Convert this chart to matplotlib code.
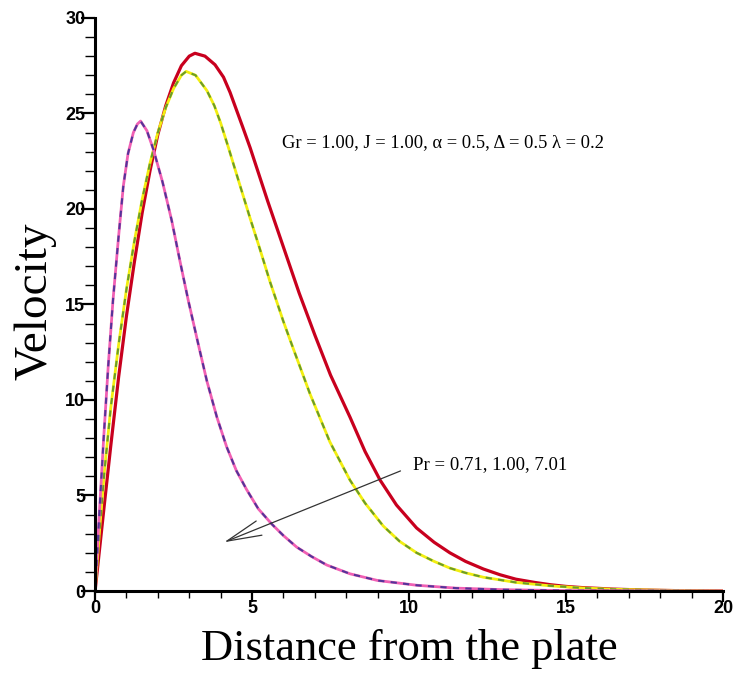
import numpy as np
import matplotlib
matplotlib.use("Agg")
import matplotlib.pyplot as plt
from matplotlib.ticker import MultipleLocator

# Velocity profiles, one per Prandtl number
x_pr071 = [0, 0.15, 0.3, 0.5, 0.75, 1.0, 1.25, 1.5, 1.75, 2.0, 2.25, 2.5, 2.75, 3.0,
           3.18, 3.5, 3.82, 4.09, 4.3, 4.5, 4.7, 4.94, 5.2, 5.5, 5.75, 6.0, 6.25, 6.5,
           6.75, 7.0, 7.5, 8.12, 8.6, 9.08, 9.6, 10.24, 10.8, 11.3, 11.8, 12.37, 12.9,
           13.4, 14.0, 14.5, 15.0, 15.5, 16.5, 17.5, 18.5, 20]
v_pr071 = [0, 2.3, 4.6, 7.6, 11.2, 14.4, 17.2, 19.8, 22.0, 23.9, 25.4, 26.6, 27.5, 28.0,
           28.15, 28.0, 27.55, 26.9, 26.1, 25.2, 24.3, 23.2, 21.9, 20.4, 19.2, 18.0, 16.8, 15.6,
           14.5, 13.4, 11.3, 9.1, 7.3, 5.8, 4.5, 3.3, 2.55, 2.0, 1.55, 1.15, 0.85,
           0.62, 0.45, 0.33, 0.24, 0.18, 0.1, 0.05, 0.02, 0]

x_pr100 = [0, 0.15, 0.3, 0.5, 0.75, 1.0, 1.25, 1.5, 1.75, 2.0, 2.25, 2.5, 2.75, 2.9,
           3.2, 3.56, 3.8, 4.0, 4.25, 4.51, 4.94, 5.25, 5.57, 6.0, 6.31, 6.85, 7.48,
           8.12, 8.6, 9.18, 9.7, 10.24, 10.8, 11.3, 11.8, 12.37, 13.4, 14.5, 15.5,
           16.5, 18, 20]
v_pr100 = [0, 3.3, 6.3, 9.6, 12.9, 15.8, 18.3, 20.5, 22.4, 24.0, 25.3, 26.3, 27.0, 27.2,
           27.0, 26.2, 25.4, 24.5, 23.2, 21.8, 19.5, 17.9, 16.2, 14.1, 12.7, 10.3, 7.8,
           5.8, 4.6, 3.4, 2.6, 2.0, 1.55, 1.2, 0.95, 0.72, 0.45, 0.27, 0.16,
           0.09, 0.04, 0]

x_pr701 = [0, 0.13, 0.27, 0.42, 0.57, 0.74, 0.9, 1.05, 1.22, 1.35, 1.45, 1.65, 1.86,
           2.15, 2.44, 2.7, 2.97, 3.29, 3.56, 3.88, 4.19, 4.5, 4.83, 5.2, 5.63, 6.0,
           6.42, 6.9, 7.38, 8.12, 9.0, 10.25, 11.5, 13, 15, 17, 20]
v_pr701 = [0, 3.9, 7.9, 11.8, 15.2, 18.4, 21.2, 22.9, 24.0, 24.45, 24.6, 24.1, 23.1,
           21.4, 19.4, 17.3, 15.2, 12.9, 11.0, 9.1, 7.55, 6.3, 5.3, 4.3, 3.5, 2.9,
           2.3, 1.8, 1.36, 0.9, 0.55, 0.3, 0.15, 0.07, 0.02, 0.01, 0]

fig = plt.figure(figsize=(7.37, 6.79), dpi=100)
ax = fig.add_axes([0.129, 0.1296, 0.852, 0.844])

# Pr = 0.71: solid red
ax.plot(x_pr071, v_pr071, color="#c8001e", lw=2.3, solid_joinstyle="round")
# Pr = 1.00: yellow with green dashes
ax.plot(x_pr100, v_pr100, color="#f2ee10", lw=2.0, solid_joinstyle="round")
ax.plot(x_pr100, v_pr100, color="#6a9c2a", lw=1.5, dashes=(3, 3))
# Pr = 7.01: pink with purple dashes
ax.plot(x_pr701, v_pr701, color="#f060b4", lw=2.0, solid_joinstyle="round")
ax.plot(x_pr701, v_pr701, color="#54349a", lw=1.5, dashes=(3, 3))

ax.set_xlim(0, 20)
ax.set_ylim(0, 30)
ax.xaxis.set_major_locator(MultipleLocator(5))
ax.xaxis.set_minor_locator(MultipleLocator(1))
ax.yaxis.set_major_locator(MultipleLocator(5))
ax.yaxis.set_minor_locator(MultipleLocator(1))

for side in ["top", "right"]:
    ax.spines[side].set_visible(False)
for side in ["left", "bottom"]:
    ax.spines[side].set_linewidth(2.2)

ax.tick_params(axis="x", which="major", direction="out", length=8, width=1.6, pad=-1.5)
ax.tick_params(axis="x", which="minor", direction="out", length=5, width=1.0)
ax.tick_params(axis="y", which="major", direction="out", length=10, width=1.6, pad=-3)
ax.tick_params(axis="y", which="minor", direction="out", length=7, width=1.0)
for lbl in ax.get_xticklabels() + ax.get_yticklabels():
    lbl.set_fontfamily("Liberation Sans")
    lbl.set_fontweight("bold")
    lbl.set_fontsize(13)

ax.set_xlabel("Distance from the plate", family="Liberation Serif", fontsize=32)
ax.xaxis.set_label_coords(0.5, -0.066)
ax.set_ylabel("Velocity", family="Liberation Serif", fontsize=34)
ax.yaxis.set_label_coords(-0.061, 0.506)

ax.text(5.96, 23.45, "Gr = 1.00, J = 1.00, \u03b1 = 0.5, \u0394 = 0.5 \u03bb = 0.2",
        family="Liberation Serif", fontsize=13.3, va="center", ha="left")
ax.text(10.13, 6.6, "Pr = 0.71, 1.00, 7.01",
        family="Liberation Serif", fontsize=13.5, va="center", ha="left")
ax.annotate("", xy=(4.03, 2.5), xytext=(9.81, 6.34),
            arrowprops=dict(arrowstyle="->,head_length=2.5,head_width=0.55",
                            mutation_scale=10, color="#333333", lw=0.9))

fig.savefig("out.png", dpi=100)
